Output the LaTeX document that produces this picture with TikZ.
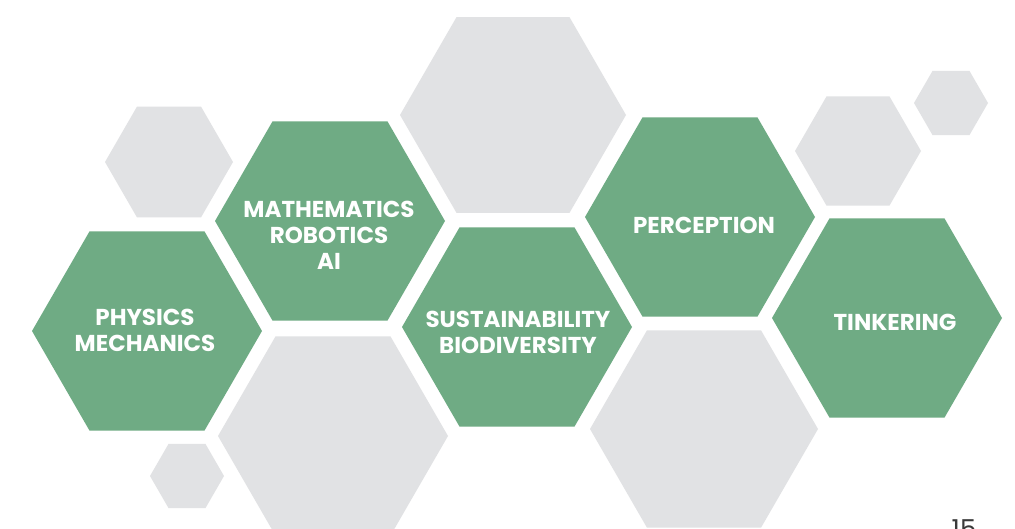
\documentclass[tikz,border=0pt]{standalone}
\usepackage{fontspec}
\setmainfont{Poppins}
\usepackage{tikz}
\usetikzlibrary{shapes.geometric}
\definecolor{hexgreen}{HTML}{6FAB84}
\definecolor{hexgrey}{HTML}{E1E2E4}
\definecolor{pagegrey}{HTML}{3A3A3A}

\begin{document}
\begin{tikzpicture}[x=1pt,y=-1pt,
  hex/.style={regular polygon,regular polygon sides=6,inner sep=0pt,outer sep=0pt,minimum size=#1},
  greenhex/.style={hex=#1,fill=hexgreen},
  greyhex/.style={hex=#1,fill=hexgrey},
  topic/.style={text=white,font=\bfseries\fontsize{23}{26}\selectfont,align=center,inner sep=0pt}]
\fill[white] (0,0) rectangle (1015,528);
\useasboundingbox (0,0) rectangle (1015,528);
% grey background cells
\node[greyhex=128pt] (g1) at (169,162) {};
\node[greyhex=226pt] (g2) at (513,115) {};
\node[greyhex=230pt] (g3) at (333,436) {};
\node[greyhex=74pt] (g4) at (187,476) {};
\node[greyhex=228pt] (g5) at (704,429) {};
\node[greyhex=126pt] (g6) at (858,151) {};
\node[greyhex=74pt] (g7) at (951,103) {};
% green cells
\node[greenhex=230pt] (1) at (147,331) {};
\node[greenhex=230pt] (2) at (330,221) {};
\node[greenhex=230pt] (3) at (517,327) {};
\node[greenhex=230pt] (4) at (700,217) {};
\node[greenhex=230pt] (5) at (887,318) {};
% labels
\node[topic] (t1) at (145,330) {PHYSICS\\MECHANICS};
\node[topic] (t2) at (329,235) {MATHEMATICS\\ROBOTICS\\AI};
\node[topic] (t3) at (518,332) {SUSTAINABILITY\\BIODIVERSITY};
\node[topic] (t4) at (704,225) {PERCEPTION};
\node[topic] (t5) at (895,322) {TINKERING};
\node[anchor=north,inner sep=0pt,text=pagegrey,font=\fontsize{26}{30}\selectfont] (page) at (964,519) {15};
\end{tikzpicture}
\end{document}
